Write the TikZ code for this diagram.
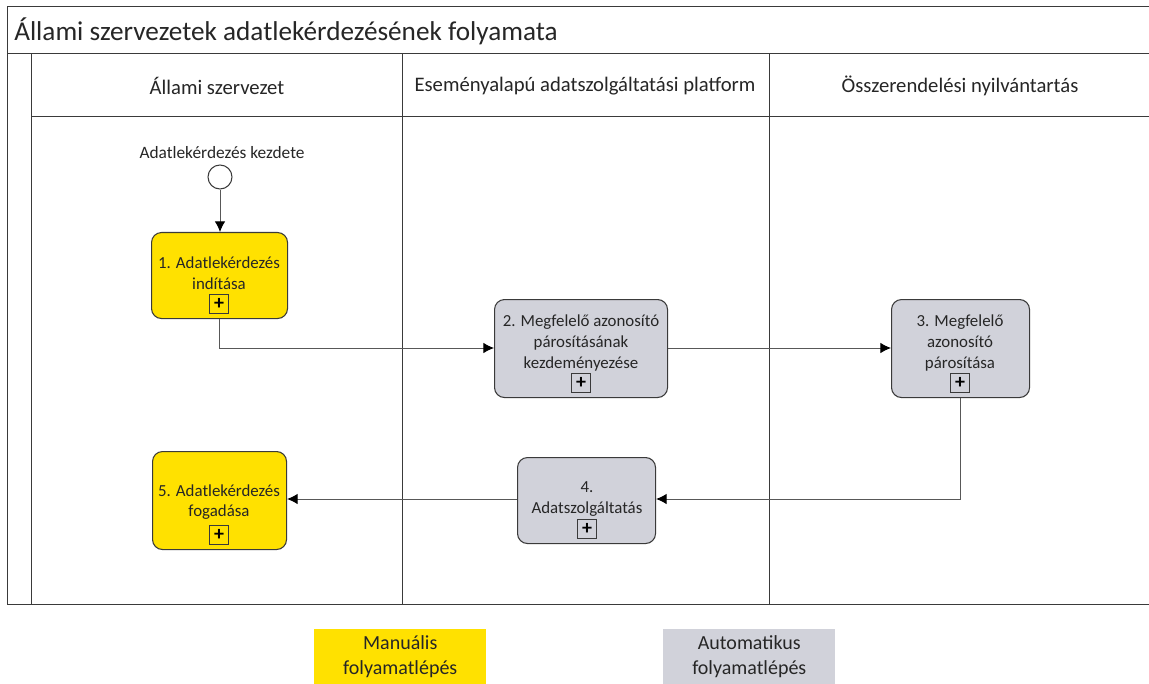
\documentclass[tikz,border=0pt]{standalone}
\usepackage{fontspec}
\setmainfont{Carlito}
\usetikzlibrary{arrows.meta,positioning}
\definecolor{yel}{HTML}{FFE100}
\definecolor{gry}{HTML}{D1D2DA}
\definecolor{lin}{HTML}{3A3A3A}
\tikzset{
 lane/.style={draw=lin,line width=0.75pt},
 task/.style={draw=lin,line width=0.8pt,rounded corners=7.5pt,inner sep=0pt,anchor=north west},
 tasktext/.style={font=\fontsize{12.65}{15.6}\selectfont,align=center,text=black!85,inner sep=0pt},
 plus/.style={draw=lin,line width=0.7pt,minimum size=14.5pt,inner sep=0pt,font=\bfseries\fontsize{15}{15}\selectfont},
 flow/.style={draw=lin!85,line width=0.75pt,-{Latex[length=8pt,width=8pt,black]}},
 legend/.style={inner sep=0pt,anchor=north west,font=\fontsize{15}{18.5}\selectfont,align=center,text=black!85},
 hdr/.style={font=\fontsize{15.5}{18}\selectfont,text=black!85,inner sep=0pt}
}
\newcommand{\taskbox}[6]{\node[task,fill=#6,minimum width=#4*0.75pt,minimum height=#5*0.75pt] (#1) at (#2,#3) {};}
\begin{document}
\begin{tikzpicture}[x=0.75pt,y=-0.75pt]
\useasboundingbox (0,0) rectangle (1149,684);
\fill[white] (0,0) rectangle (1149,684);
% pool frame
\draw[lane] (1149,7) -- (7,7) -- (7,604.5) -- (1149,604.5);
\draw[lane] (7,54) -- (1149,54);
\draw[lane] (31,54) -- (31,604.5);
\draw[lane] (31,117) -- (1149,117);
\draw[lane] (402,54) -- (402,604.5);
\draw[lane] (769,54) -- (769,604.5);
\node[anchor=west,inner sep=0pt,font=\fontsize{20.4}{24}\selectfont,text=black!85] (title) at (14,31) {Állami szervezetek adatlekérdezésének folyamata};
\node[hdr] (h1) at (217,86) {Állami szervezet};
\node[hdr] (h2) at (585,86) {Eseményalapú adatszolgáltatási platform};
\node[hdr] (h3) at (960,86) {Összerendelési nyilvántartás};
% start event
\node[draw=lin,fill=white,circle,minimum size=18pt,inner sep=0pt,line width=0.8pt] (start) at (220,177) {};
\node[font=\fontsize{13}{15}\selectfont,inner sep=0pt,text=black!85] (startlbl) at (222,153) {Adatlekérdezés kezdete};
% tasks
\taskbox{t1}{151}{232}{136}{86}{yel}
\taskbox{t2}{494}{299}{173}{98}{gry}
\taskbox{t3}{891}{299}{138}{98}{gry}
\taskbox{t4}{517}{457}{138}{86}{gry}
\taskbox{t5}{152}{451}{134}{98}{yel}
% task texts
\node[tasktext] (l1) at (219,273.5) {1. Adatlekérdezés\\indítása};
\node[tasktext] (l2) at (581,343) {2. Megfelelő azonosító\\párosításának\\kezdeményezése};
\node[tasktext] (l3) at (960,343) {3. Megfelelő\\azonosító\\párosítása};
\node[tasktext] (l4) at (587,499) {4.\\Adatszolgáltatás};
\node[tasktext] (l5) at (219,502) {5. Adatlekérdezés\\fogadása};
% markers
\node[plus] (p1) at (219,304) {+};
\node[plus] (p2) at (581,383) {+};
\node[plus] (p3) at (960,383) {+};
\node[plus] (p4) at (587,529) {+};
\node[plus] (p5) at (219,535) {+};
% connectors
\draw[flow] (start.south) -- (t1.north -| start.south);
\coordinate (c1) at (219,348);
\draw[flow] (t1.south -| c1) -- (c1) -- (c1 -| t2.west);
\draw[flow] (t2.east |- c1) -- (c1 -| t3.west);
\coordinate (c2) at (960,499);
\draw[flow] (t3.south -| c2) -- (c2) -- (c2 -| t4.east);
\draw[flow] (t4.west |- c2) -- (c2 -| t5.east);
% legend
\node[legend,fill=yel,minimum width=129pt,minimum height=41.25pt] (lg1) at (314,629) {Manuális\\folyamatlépés};
\node[legend,fill=gry,minimum width=129pt,minimum height=41.25pt] (lg2) at (663,629) {Automatikus\\folyamatlépés};
\end{tikzpicture}
\end{document}
